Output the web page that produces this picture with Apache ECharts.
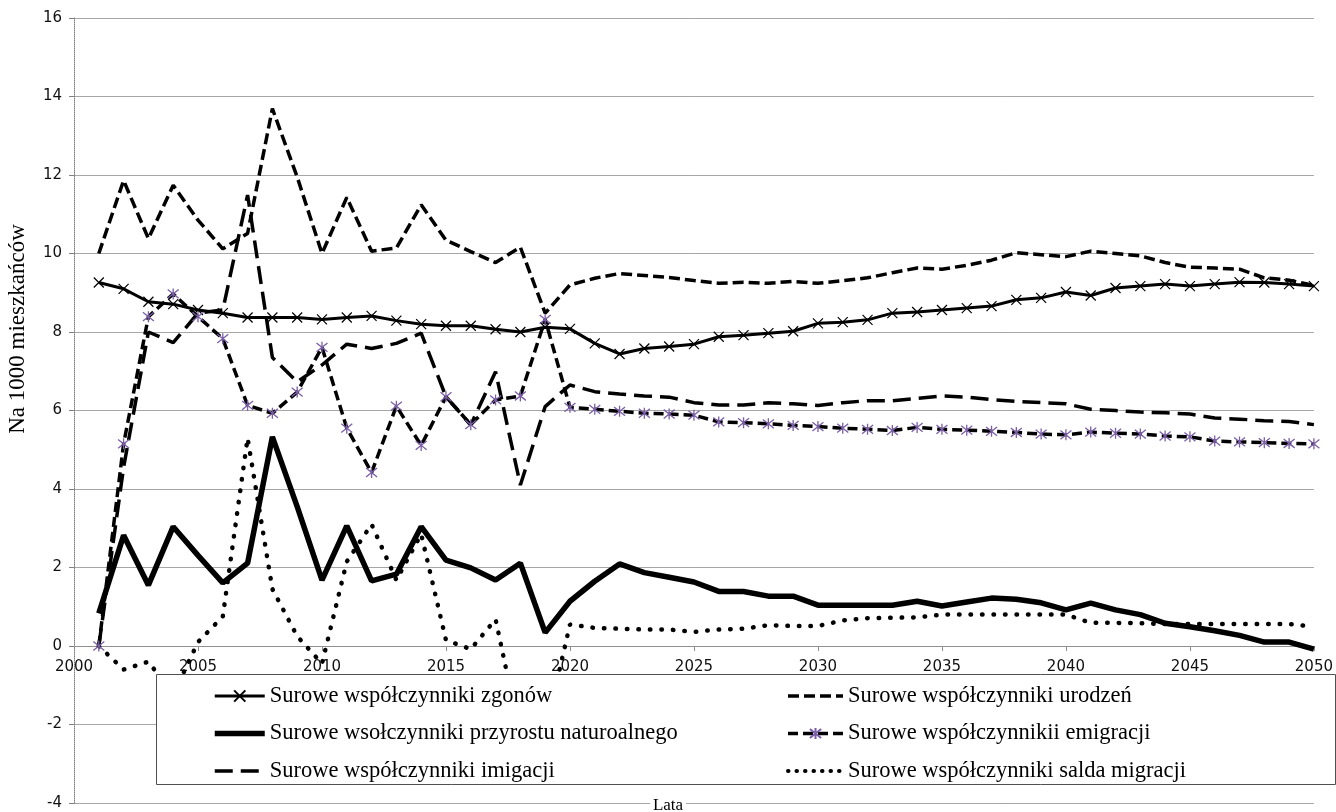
<!DOCTYPE html>
<html><head><meta charset="utf-8">
<script src="https://cdn.jsdelivr.net/npm/echarts@6/dist/echarts.min.js"></script>
<style>html,body{margin:0;padding:0;background:#fff}#c{width:1336px;height:812px}</style>
</head><body><div id="c"></div>
<script>
const years = [2001,2002,2003,2004,2005,2006,2007,2008,2009,2010,2011,2012,2013,2014,2015,2016,2017,2018,2019,2020,
  2021,2022,2023,2024,2025,2026,2027,2028,2029,2030,2031,2032,2033,2034,2035,2036,2037,2038,2039,2040,
  2041,2042,2043,2044,2045,2046,2047,2048,2049,2050];
const zgonow = [9.26,9.10,8.77,8.71,8.56,8.48,8.37,8.37,8.37,8.32,8.37,8.41,8.29,8.20,8.16,8.16,8.07,8.00,8.12,8.08,
  7.71,7.44,7.58,7.63,7.69,7.88,7.92,7.97,8.02,8.22,8.25,8.31,8.48,8.51,8.56,8.61,8.66,8.82,8.87,9.02,
  8.93,9.12,9.17,9.22,9.17,9.22,9.27,9.26,9.22,9.17];
const urodzen = [10.0,11.86,10.38,11.74,10.85,10.12,10.51,13.69,11.95,10.0,11.43,10.06,10.14,11.24,10.34,10.05,9.77,10.16,8.48,9.20,
  9.37,9.49,9.44,9.39,9.31,9.24,9.27,9.24,9.29,9.24,9.31,9.38,9.51,9.63,9.60,9.70,9.83,10.02,9.97,9.92,
  10.06,10.0,9.94,9.77,9.65,9.63,9.60,9.38,9.32,9.19];
const przyrost = [0.83,2.82,1.55,3.04,2.31,1.61,2.11,5.33,3.55,1.68,3.06,1.66,1.83,3.04,2.19,1.99,1.68,2.11,0.34,1.14,
  1.65,2.09,1.87,1.75,1.63,1.39,1.39,1.27,1.27,1.04,1.04,1.04,1.04,1.14,1.02,1.12,1.22,1.19,1.10,0.92,
  1.09,0.92,0.80,0.58,0.49,0.39,0.27,0.10,0.10,-0.08];
const emigracja = [0.0,5.15,8.39,8.97,8.39,7.83,6.13,5.93,6.47,7.61,5.55,4.42,6.11,5.11,6.35,5.64,6.27,6.37,8.32,6.08,
  6.03,5.98,5.93,5.91,5.88,5.71,5.69,5.66,5.62,5.59,5.55,5.52,5.49,5.57,5.52,5.50,5.47,5.44,5.40,5.38,
  5.45,5.42,5.40,5.35,5.33,5.22,5.20,5.18,5.16,5.15];
const imigracja = [0.0,4.55,8.0,7.73,8.48,8.56,11.49,7.35,6.73,7.16,7.69,7.58,7.71,7.97,6.35,5.63,6.99,4.10,6.10,6.65,
  6.48,6.42,6.37,6.34,6.20,6.14,6.14,6.20,6.17,6.13,6.20,6.25,6.25,6.31,6.37,6.34,6.28,6.23,6.20,6.17,
  6.03,6.00,5.96,5.94,5.91,5.81,5.78,5.74,5.72,5.64];
const saldo = [0.0,-0.6,-0.4,-1.24,0.1,0.75,5.3,1.45,0.25,-0.45,2.15,3.1,1.68,2.85,0.15,-0.08,0.68,-2.3,-2.2,0.55,
  0.46,0.44,0.42,0.42,0.36,0.42,0.44,0.53,0.51,0.51,0.65,0.71,0.72,0.73,0.80,0.80,0.80,0.80,0.80,0.80,
  0.59,0.59,0.58,0.56,0.56,0.56,0.56,0.56,0.56,0.49];
const yTicks = {min: -4, max: 16, interval: 2};
const xTicks = {min: 2000, max: 2050, interval: 5};
const names = {
  zg: 'Surowe współczynniki zgonów',
  ur: 'Surowe współczynniki urodzeń',
  pn: 'Surowe wsołczynniki przyrostu naturoalnego',
  em: 'Surowe współczynnikii emigracji',
  im: 'Surowe współczynniki imigacji',
  sa: 'Surowe współczynniki salda migracji'
};
const pair = arr => years.map((y, i) => [y, arr[i]]);
const SERIF = '"Liberation Serif", "Times New Roman", serif';
const PURPLE = '#7A5FA6';
const noMark = {color: 'rgba(0,0,0,0)', borderColor: 'rgba(0,0,0,0)', borderWidth: 0};
const LS = {
  zg: {color: '#000', width: 3},
  ur: {color: '#000', width: 3.5, type: [11, 5]},
  pn: {color: '#000', width: 5.5},
  em: {color: '#000', width: 3.5, type: [10, 5]},
  im: {color: '#000', width: 3.5, type: [18, 8]},
  sa: {color: '#000', width: 4.5, type: [0.5, 11], cap: 'round'}
};
const LSleg = {
  sa: {color: '#000', width: 4, type: [0.5, 8], cap: 'round'}
};

const GRID = {left: 74, right: 20, top: 18, bottom: 9};
const H = 812 - GRID.top - GRID.bottom;
const zeroOffset = H * (0 - yTicks.min) / (yTicks.max - yTicks.min);

const chart = echarts.init(document.getElementById('c'), null, {renderer: 'canvas'});
chart.setOption({
  animation: false,
  backgroundColor: '#fff',
  grid: Object.assign({containLabel: false}, GRID),
  xAxis: {
    type: 'value', min: xTicks.min, max: xTicks.max, interval: xTicks.interval,
    position: 'bottom', offset: -zeroOffset,
    axisLine: {onZero: false, lineStyle: {color: '#909090', width: 1}},
    axisTick: {show: true, length: 5, lineStyle: {color: '#909090'}},
    axisLabel: {color: '#111', fontFamily: 'DejaVu Sans', fontSize: 15, margin: 14,
      formatter: v => String(v)},
    splitLine: {show: false}
  },
  yAxis: {
    type: 'value', min: yTicks.min, max: yTicks.max, interval: yTicks.interval,
    axisLine: {show: true, lineStyle: {color: '#808080', type: 'dotted', width: 1}},
    axisTick: {show: true, length: 5, lineStyle: {color: '#808080'}},
    axisLabel: {color: '#111', fontFamily: 'DejaVu Sans', fontSize: 15, margin: 12},
    splitLine: {show: true, lineStyle: {color: '#A6A6A6', width: 1}}
  },
  legend: [
    {data: [{name: names.zg, lineStyle: LS.zg},
            {name: names.pn, itemStyle: noMark, lineStyle: LS.pn},
            {name: names.im, itemStyle: noMark, lineStyle: LS.im}],
     orient: 'vertical', left: 212, top: 684, padding: 0,
     itemWidth: 50, itemHeight: 14, itemGap: 13.5, z: 10,
     textStyle: {fontFamily: SERIF, fontSize: 22.5, color: '#000', lineHeight: 24}},
    {data: [{name: names.ur, itemStyle: noMark, lineStyle: LS.ur},
            {name: names.em, lineStyle: LS.em},
            {name: names.sa, itemStyle: noMark, lineStyle: LSleg.sa}],
     orient: 'vertical', left: 786, top: 684, padding: 0,
     itemWidth: 55, itemHeight: 14, itemGap: 13.5, z: 10,
     textStyle: {fontFamily: SERIF, fontSize: 22.5, color: '#000', lineHeight: 24}}
  ],
  graphic: [
    {type: 'rect', z: 5, shape: {x: 156.5, y: 674.5, width: 1179, height: 110},
     style: {fill: '#fff', stroke: '#505050', lineWidth: 1}},
    {type: 'rect', z: 5, shape: {x: 650, y: 797, width: 36, height: 15}, style: {fill: '#fff'}},
    {type: 'text', z: 6, x: 668, y: 806,
     style: {text: 'Lata', font: '17px ' + SERIF, fill: '#000', align: 'center', verticalAlign: 'middle'}},
    {type: 'text', z: 6, x: 18, y: 329, rotation: Math.PI / 2,
     style: {text: 'Na 1000 mieszkańców', font: '23px ' + SERIF, fill: '#000', align: 'center', verticalAlign: 'middle'}}
  ],
  series: [
    {name: names.zg, type: 'line', data: pair(zgonow), color: '#000',
     symbol: 'path://M0,0L10,10M10,0L0,10', symbolSize: 10, showAllSymbol: true,
     itemStyle: {color: 'rgba(0,0,0,0)', borderColor: '#000', borderWidth: 1.2},
     lineStyle: LS.zg},
    {name: names.ur, type: 'line', data: pair(urodzen), color: '#000', symbol: 'none', lineStyle: LS.ur},
    {name: names.pn, type: 'line', data: pair(przyrost), color: '#000', symbol: 'none', lineStyle: LS.pn},
    {name: names.em, type: 'line', data: pair(emigracja), color: '#000',
     symbol: 'path://M1,1L9,9M9,1L1,9M5,0L5,10', symbolSize: 11, showAllSymbol: true,
     itemStyle: {color: 'rgba(0,0,0,0)', borderColor: PURPLE, borderWidth: 1.3},
     lineStyle: LS.em},
    {name: names.im, type: 'line', data: pair(imigracja), color: '#000', symbol: 'none', lineStyle: LS.im},
    {name: names.sa, type: 'line', data: pair(saldo), color: '#000', symbol: 'none', lineStyle: LS.sa}
  ]
});
</script></body></html>
